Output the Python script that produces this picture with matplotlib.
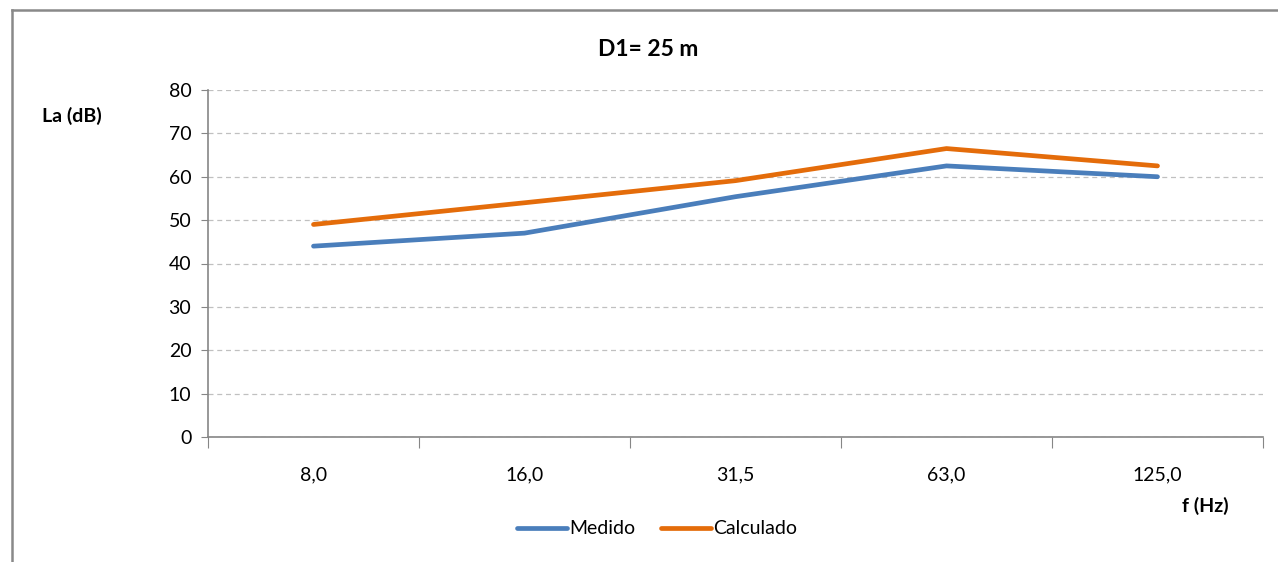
import matplotlib
matplotlib.use("Agg")
import matplotlib.pyplot as plt
from matplotlib.lines import Line2D

freqs = ["8,0", "16,0", "31,5", "63,0", "125,0"]
medido = [44.0, 47.0, 55.4, 62.5, 60.0]
calculado = [49.0, 54.0, 59.1, 66.5, 62.5]

plt.rcParams['font.family'] = ['Lato', 'DejaVu Sans']

fig = plt.figure(figsize=(12.78, 5.62), dpi=100)
ax = fig.add_axes([208 / 1278, 125 / 562, 1055 / 1278, 347 / 562])

x = list(range(len(freqs)))
ax.plot(x, medido, color="#4a7ebb", lw=3.4, label="Medido", solid_capstyle="round")
ax.plot(x, calculado, color="#e46c0a", lw=3.4, label="Calculado", solid_capstyle="round")

ax.set_xlim(-0.5, len(freqs) - 0.5)
ax.set_ylim(0, 80)
ax.set_yticks(range(0, 81, 10))
ax.tick_params(axis="y", labelsize=14, length=5, color="#868686", pad=7)

# category boundaries as major ticks, labels on minor ticks
ax.set_xticks([i - 0.5 for i in range(len(freqs) + 1)])
ax.set_xticklabels([])
ax.set_xticks(x, minor=True)
ax.set_xticklabels(freqs, minor=True)
ax.tick_params(axis="x", which="major", length=8, color="#868686")
ax.tick_params(axis="x", which="minor", length=0, labelsize=14, pad=21)

ax.grid(axis="y", color="#c0c0c0", linestyle=(0, (4, 3)), lw=0.9)
ax.set_axisbelow(True)
for s in ["top", "right"]:
    ax.spines[s].set_visible(False)
for s in ["left", "bottom"]:
    ax.spines[s].set_color("#868686")
    ax.spines[s].set_linewidth(1.2)

fig.text(648 / 1278, 1 - 50 / 562, "D1= 25 m", ha="center", va="center", fontsize=16.5, fontweight="bold")
fig.text(72 / 1278, 1 - 116 / 562, "La (dB)", ha="center", va="center", fontsize=14, fontweight="bold")
fig.text(1205 / 1278, 1 - 506 / 562, "f (Hz)", ha="center", va="center", fontsize=14, fontweight="bold")

fig.legend(loc="center", bbox_to_anchor=(657 / 1278, 1 - 529 / 562), ncol=2, frameon=False,
           fontsize=14, handlelength=2.6, handletextpad=0.1, columnspacing=1.3)

# chart frame
fig.add_artist(Line2D([12 / 1278, 12 / 1278], [0, 1 - 10 / 562], color="#898989", lw=1.8))
fig.add_artist(Line2D([12 / 1278, 1], [1 - 10 / 562, 1 - 10 / 562], color="#898989", lw=1.8))

fig.savefig("out.png", dpi=100)
